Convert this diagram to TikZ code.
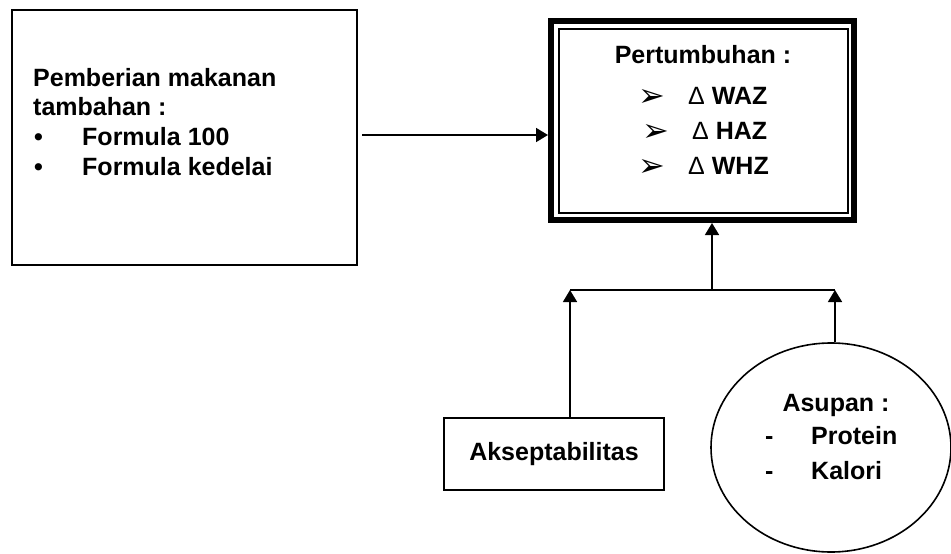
\documentclass[tikz,border=0pt]{standalone}
\usepackage{fontspec}
\setmainfont{Liberation Sans}
\newfontfamily\djv{DejaVu Sans}
\usetikzlibrary{arrows.meta,calc,shapes.geometric}
\begin{document}
\begin{tikzpicture}[x=1pt,y=-1pt,
  txt/.style={inner sep=0pt, anchor=base west, font=\fontsize{25}{30}\selectfont\bfseries},
  ctxt/.style={inner sep=0pt, anchor=base, font=\fontsize{25}{30}\selectfont\bfseries},
  sym/.style={inner sep=0pt, anchor=base west, font=\djv\fontsize{32}{36}\selectfont},
  boxthin/.style={draw, line width=1.6pt, inner sep=0pt, outer sep=0pt},
  conn/.style={line width=1.6pt},
  arr/.style={line width=1.6pt, -{Triangle[length=12pt,width=14pt]}}]
\useasboundingbox (0,0) rectangle (951,554);
\fill[white] (0,0) rectangle (951,554);
\clip (0,0) rectangle (951,554);

% left box
\node[boxthin, minimum width=345pt, minimum height=255pt] (left) at (184.5,137.5) {};
\node[txt] (l1) at (33,86) {Pemberian makanan};
\node[txt] (l2) at (33,115) {tambahan :};
\node[txt] (b1) at (34,145) {•};
\node[txt] (f1) at (82,145) {Formula 100};
\node[txt] (b2) at (34,175) {•};
\node[txt] (f2) at (82,175) {Formula kedelai};

% main box
\node[draw, line width=6pt, inner sep=0pt, minimum width=303pt, minimum height=199pt] (main) at (702.5,120.5) {};
\draw[line width=1.2pt] ($(main.north west)+(11,11)$) rectangle ($(main.south east)+(-9,-10)$);
\node[ctxt] (title) at (703,63) {Pertumbuhan :};
\node[sym] (s1) at (638,106) {➢};
\node[txt] (w1) at (688,104) {{\mdseries Δ} WAZ};
\node[sym] (s2) at (642,141) {➢};
\node[txt] (w2) at (692,139) {{\mdseries Δ} HAZ};
\node[sym] (s3) at (638,176) {➢};
\node[txt] (w3) at (688,174) {{\mdseries Δ} WHZ};

% akseptabilitas
\node[boxthin, minimum width=220pt, minimum height=72pt, font=\fontsize{25}{30}\selectfont\bfseries] (aks) at (554,454) {Akseptabilitas};

% asupan ellipse
\node[draw, ellipse, line width=1.6pt, inner sep=0pt, minimum width=240pt, minimum height=209pt] (asup) at (831,447.5) {};
\node[ctxt] (at) at (836,411) {Asupan :};
\node[txt] (d1) at (765,444) {-};
\node[txt] (p1) at (811,444) {Protein};
\node[txt] (d2) at (765,479) {-};
\node[txt] (k1) at (811,479) {Kalori};

% connectors
\coordinate (ya) at (450,135);
\coordinate (jl) at (570,290);
\coordinate (jm) at (712,290);
\coordinate (jr) at (835,290);
\draw[arr] ([xshift=5pt]left.east |- ya) -- (main.west |- ya);
\draw[conn] (jl) -- (jr);
\draw[arr] (jm) -- (jm |- main.south);
\draw[arr] (jl |- aks.north) -- (jl);
\draw[arr] (jr |- asup.north) -- (jr);
\end{tikzpicture}
\end{document}
